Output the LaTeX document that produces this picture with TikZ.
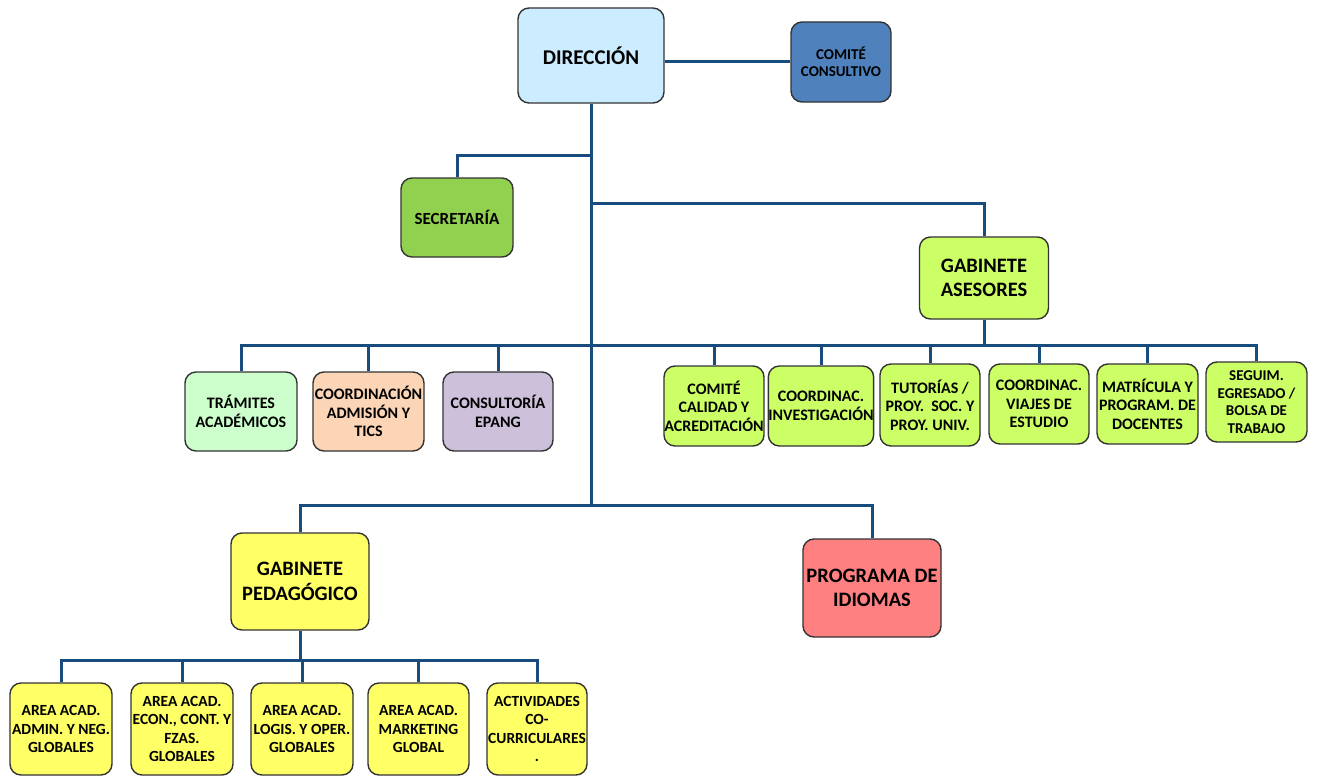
\documentclass[tikz,border=0pt]{standalone}
\usepackage{fontspec}
\setmainfont{Carlito}
\definecolor{dirblue}{RGB}{204,236,255}
\definecolor{ccblue}{RGB}{79,129,189}
\definecolor{secgreen}{RGB}{146,208,80}
\definecolor{lime}{RGB}{204,255,102}
\definecolor{mint}{RGB}{204,255,204}
\definecolor{peach}{RGB}{251,213,181}
\definecolor{lilac}{RGB}{204,192,218}
\definecolor{yel}{RGB}{255,255,102}
\definecolor{salmon}{RGB}{255,128,128}
\definecolor{linecol}{RGB}{25,76,126}
\begin{document}
\begin{tikzpicture}[x=1pt,y=-1pt,
  box/.style={draw=black!80, line width=1.4pt, rounded corners=11pt, align=center,
    inner sep=0pt, text=black, font=\bfseries\fontsize{16}{18.5}\selectfont},
  big/.style={font=\bfseries\fontsize{20.5}{24.5}\selectfont},
  small/.style={font=\bfseries\fontsize{15}{17.5}\selectfont},
  bot/.style={font=\bfseries\fontsize{15.5}{18.5}\selectfont},
  sz/.style n args={2}{minimum width=#1pt, minimum height=#2pt},
  conn/.style={draw=linecol, line width=3pt}]
\useasboundingbox (0,0) rectangle (1317,776);
\fill[white] (0,0) rectangle (1317,776);

% top
\node[box, fill=dirblue, sz={146}{95}, font=\bfseries\fontsize{21}{25}\selectfont] (dir) at (591,55.5) {DIRECCIÓN};
\node[box, small, fill=ccblue, sz={100}{80}] (cc) at (841,62) {COMITÉ\\CONSULTIVO};
\node[box, fill=secgreen, sz={112}{79}, font=\bfseries\fontsize{17}{20}\selectfont] (sec) at (457,217.5) {SECRETARÍA};
\node[box, big, fill=lime, sz={129}{82}] (ga) at (984,278) {GABINETE\\ASESORES};

% middle row left
\node[box, fill=mint, sz={112}{79}] (tra) at (241,411.5) {TRÁMITES\\ACADÉMICOS};
\node[box, fill=peach, sz={111}{79}] (coo) at (368.5,411.5) {COORDINACIÓN\\ADMISIÓN Y\\TICS};
\node[box, fill=lilac, sz={110}{79}] (con) at (498,411.5) {CONSULTORÍA\\EPANG};

% middle row right
\node[box, fill=lime, sz={100}{80}] (cal) at (714,406) {COMITÉ\\CALIDAD Y\\ACREDITACIÓN};
\node[box, fill=lime, sz={100}{80}] (inv) at (821,406) {COORDINAC.\\INVESTIGACIÓN};
\node[box, fill=lime, sz={100}{82}] (tut) at (930,405) {TUTORÍAS /\\PROY.\ \ SOC. Y\\PROY. UNIV.};
\node[box, fill=lime, sz={100}{80}] (via) at (1039,404) {COORDINAC.\\VIAJES DE\\ESTUDIO};
\node[box, fill=lime, sz={101}{80}] (mat) at (1147.5,404) {MATRÍCULA Y\\PROGRAM. DE\\DOCENTES};
\node[box, small, fill=lime, sz={101}{80}] (seg) at (1256.5,402) {SEGUIM.\\EGRESADO /\\BOLSA DE\\TRABAJO};

% lower level
\node[box, big, fill=yel, sz={138}{97}] (gp) at (300,581.5) {GABINETE\\PEDAGÓGICO};
\node[box, big, fill=salmon, sz={138}{98}] (pi) at (872,588) {PROGRAMA DE\\IDIOMAS};

% bottom row
\node[box, bot, fill=yel, sz={102}{92}] (a1) at (61,729) {AREA ACAD.\\ADMIN. Y NEG.\\GLOBALES};
\node[box, bot, fill=yel, sz={102}{92}] (a2) at (182,729) {AREA ACAD.\\ECON., CONT. Y\\FZAS.\\GLOBALES};
\node[box, bot, fill=yel, sz={102}{92}] (a3) at (302,729) {AREA ACAD.\\LOGIS. Y OPER.\\GLOBALES};
\node[box, bot, fill=yel, sz={101}{92}] (a4) at (418.5,729) {AREA ACAD.\\MARKETING\\GLOBAL};
\node[box, bot, fill=yel, sz={100}{92}] (a5) at (537,729) {ACTIVIDADES\\CO-\\CURRICULARES\\.};

% junctions
\coordinate (j1) at (591,155);
\coordinate (j2) at (591,203);
\coordinate (mb) at (984,345);
\coordinate (lb) at (591,505);
\coordinate (bb) at (300,660);

% connectors
\draw[conn] (cc.west) -- (cc.west -| dir.east);
\draw[conn] (dir.south) -- (lb);
\draw[conn] (j1) -| (sec.north);
\draw[conn] (j2) -| (ga.north);
\draw[conn] (ga.south) -- (mb);
\foreach \n in {tra,coo,con,cal,inv,tut,via,mat,seg} \draw[conn] (mb) -| (\n.north);
\draw[conn] (lb) -| (gp.north);
\draw[conn] (lb) -| (pi.north);
\draw[conn] (gp.south) -- (bb);
\foreach \n in {a1,a2,a3,a4,a5} \draw[conn] (bb) -| (\n.north);
\end{tikzpicture}
\end{document}
